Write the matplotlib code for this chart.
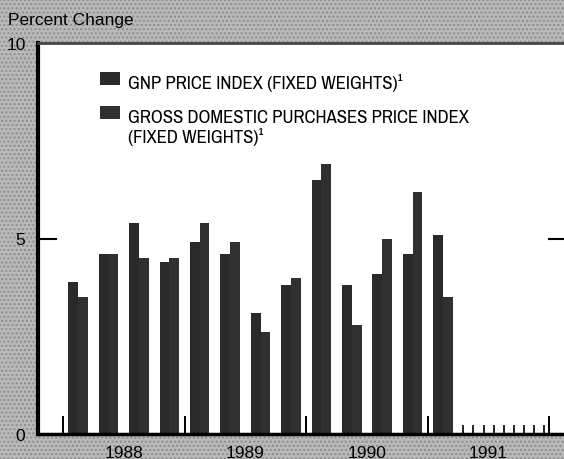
import matplotlib
matplotlib.use("Agg")
import matplotlib.pyplot as plt
from matplotlib import font_manager
from matplotlib.patches import Rectangle
import numpy as np

# quarterly percent change, 1988 Q1 .. 1991 Q1
quarters = ["1988Q1", "1988Q2", "1988Q3", "1988Q4",
            "1989Q1", "1989Q2", "1989Q3", "1989Q4",
            "1990Q1", "1990Q2", "1990Q3", "1990Q4",
            "1991Q1"]
gnp_index = [3.9, 4.6, 5.4, 4.4, 4.9, 4.6, 3.1, 3.8, 6.5, 3.8, 4.1, 4.6, 5.1]
gdp_purchases = [3.5, 4.6, 4.5, 4.5, 5.4, 4.9, 2.6, 4.0, 6.9, 2.8, 5.0, 6.2, 3.5]
years = ["1988", "1989", "1990", "1991"]
yticks = [0, 5, 10]
series_labels = ["GNP PRICE INDEX (FIXED WEIGHTS)\u00b9",
                 "GROSS DOMESTIC PURCHASES PRICE INDEX\n(FIXED WEIGHTS)\u00b9"]

bg = "#b9b9b9"
colors = ["#2a2a2a", "#303030"]
plain = "Liberation Sans"

# legend uses a condensed face if one is around
narrow = None
for f in font_manager.fontManager.ttflist:
    if "Narrow" in f.name or "Condensed" in f.name:
        narrow = f.name
        break
for f in font_manager.fontManager.ttflist:
    if f.name == "Liberation Sans Narrow":
        narrow = f.name
if narrow is None:
    leg_font = {"family": "DejaVu Sans", "fontstretch": "condensed", "fontsize": 12}
else:
    leg_font = {"family": narrow, "fontsize": 13.5}

fig = plt.figure(figsize=(5.64, 4.60), dpi=100)
fig.patch.set_facecolor(bg)
# halftone-ish texture on the background
fig.patches.append(Rectangle((0, 0), 1, 1, transform=fig.transFigure, facecolor="none",
                             edgecolor="#8c8c8c", hatch="....", linewidth=0, zorder=-1))

ax = fig.add_axes([38 / 564, 25 / 460, 526 / 564, 391 / 460])
ax.set_facecolor("white")

x = np.arange(len(quarters))
w = 0.32
ax.bar(x - w / 2, gnp_index, width=w, color=colors[0], linewidth=0)
ax.bar(x + w / 2, gdp_purchases, width=w, color=colors[1], linewidth=0)

ax.set_xlim(-1.32, 15.98)
ax.set_ylim(0, 10)

# year dividers and month marks for the rest of 1991
for yb in [-0.5, 3.5, 7.5, 11.5, 15.5]:
    ax.plot([yb, yb], [0, 0.45], color="black", lw=1.4, solid_capstyle="butt")
for k in range(9):
    m = 12.5 + (k + 0.5) / 3
    ax.plot([m, m], [0, 0.23], color="black", lw=1.2, solid_capstyle="butt")

# tick marks at 5 on both sides
ax.plot([0, 0.034], [5, 5], color="black", lw=1.5, transform=ax.get_yaxis_transform())
ax.plot([0.972, 1.0], [5, 5], color="black", lw=1.5, transform=ax.get_yaxis_transform())

ax.set_yticks(yticks)
ax.set_yticklabels([str(v) for v in yticks], fontfamily=plain, fontsize=12.5)
ax.tick_params(axis="y", length=0, pad=9)
ax.set_xticks([1.5, 5.5, 9.5, 13.5])
ax.set_xticklabels(years, fontfamily=plain, fontsize=12.5)
ax.tick_params(axis="x", length=0, pad=8)

ax.spines["right"].set_visible(False)
ax.spines["left"].set_linewidth(3)
ax.spines["top"].set_linewidth(2)
ax.spines["top"].set_color("#444444")
ax.spines["bottom"].set_linewidth(2.5)

fig.text(8 / 564, 1 - 20 / 460, "Percent Change", fontfamily=plain, fontsize=12.5,
         va="center", ha="left")

# legend drawn by hand so the swatch sits on the first line of the label
def ax_frac(px, py):
    return (px - 38) / 526, (435 - py) / 391

for i, (lab, c) in enumerate(zip(series_labels, colors)):
    top = 73 + 34 * i
    sx, sy = ax_frac(100, top + 13)
    ax.add_patch(Rectangle((sx, sy), 20 / 526, 13 / 391, transform=ax.transAxes,
                           facecolor=c, edgecolor="none"))
    tx, ty = ax_frac(128, top + 1 + 2 * i)
    ax.text(tx, ty, lab, transform=ax.transAxes, ha="left", va="top",
            linespacing=1.1, **leg_font)

fig.savefig("out.png", dpi=100, facecolor=fig.get_facecolor())
